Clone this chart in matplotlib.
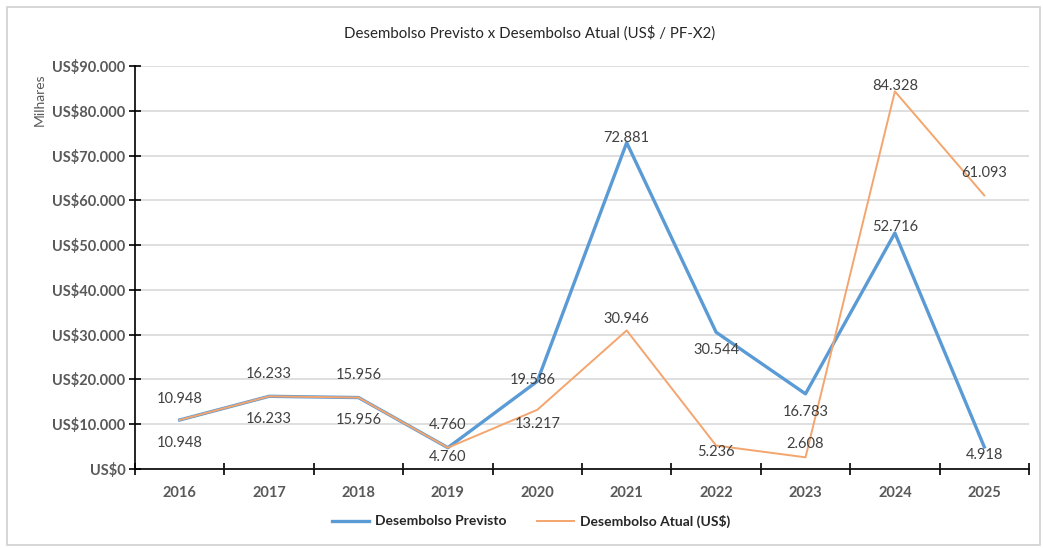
#!/usr/bin/env python3
"""Desembolso Previsto x Desembolso Atual (US$ / PF-X2) - line chart with data labels."""
import matplotlib.pyplot as plt
from matplotlib.patches import Rectangle
from matplotlib.ticker import FuncFormatter, FixedLocator

plt.rcParams["font.family"] = ["Lato", "DejaVu Sans"]

YEARS = ["2016", "2017", "2018", "2019", "2020", "2021", "2022", "2023", "2024", "2025"]
PREVISTO = [10948, 16233, 15956, 4760, 19586, 72881, 30544, 16783, 52716, 4918]
ATUAL = [10948, 16233, 15956, 4760, 13217, 30946, 5236, 2608, 84328, 61093]

BLUE = "#5B9BD5"
ORANGE = "#F4A56E"
TXT = "#404040"

# label offsets in points (dx, dy) per point
OFF_PREV = [(0, 15), (0, 16), (0, 16), (0, 16), (-3, 1), (0, 3), (0, -13), (0, -13), (0, 4.5), (0, -6)]
OFF_ATUAL = [(0, -16.5), (0, -16.5), (0, -16.5), (0, -6.5), (0, -10), (0, 8), (0, -4.7), (0, 9.5), (0, 4), (0, 16)]


def fmt_thousands(v):
    return f"{int(round(v)):,}".replace(",", ".")


def main():
    fig = plt.figure(figsize=(10.43, 5.48), dpi=100)
    fig.patches.append(Rectangle((7 / 1043, 3 / 548), 1033 / 1043, 538 / 548,
                                 transform=fig.transFigure, fill=False,
                                 edgecolor="#D0D0D0", lw=1.2))
    ax = fig.add_axes([135 / 1043, 1 - 469 / 548, 894 / 1043, 403 / 548])

    x = list(range(len(YEARS)))
    ax.plot(x, PREVISTO, color=BLUE, lw=2.4, label="Desembolso Previsto", zorder=3)
    ax.plot(x, ATUAL, color=ORANGE, lw=1.4, label="Desembolso Atual (US$)", zorder=4)

    for xi, v, (dx, dy) in zip(x, PREVISTO, OFF_PREV):
        ax.annotate(fmt_thousands(v), (xi, v), xytext=(dx, dy), textcoords="offset points",
                    ha="center", va="center", fontsize=10.5, color=TXT, zorder=5)
    for xi, v, (dx, dy) in zip(x, ATUAL, OFF_ATUAL):
        ax.annotate(fmt_thousands(v), (xi, v), xytext=(dx, dy), textcoords="offset points",
                    ha="center", va="center", fontsize=10.5, color=TXT, zorder=5)

    ax.set_xlim(-0.5, len(YEARS) - 0.5)
    ax.set_ylim(0, 90000)
    ax.set_yticks(range(0, 90001, 10000))
    ax.yaxis.set_major_formatter(FuncFormatter(lambda v, p: "US$" + fmt_thousands(v)))
    ax.xaxis.set_major_locator(FixedLocator([i - 0.5 for i in range(len(YEARS) + 1)]))
    ax.xaxis.set_major_formatter(FuncFormatter(lambda v, p: ""))
    ax.xaxis.set_minor_locator(FixedLocator(x))
    ax.set_xticklabels(YEARS, minor=True)
    ax.tick_params(axis="x", which="major", direction="inout", length=8, width=1.2)
    ax.tick_params(axis="x", which="minor", length=0, pad=12)
    ax.tick_params(axis="y", direction="inout", length=8, width=1.2, pad=3)
    for lab in ax.get_xticklabels(minor=True) + ax.get_yticklabels():
        lab.set_fontweight("bold")
        lab.set_color("#595959")
        lab.set_fontsize(10.5)

    ax.grid(axis="y", color="#D9D9D9", lw=1.2, zorder=0)
    ax.set_axisbelow(True)
    for s in ("top", "right"):
        ax.spines[s].set_visible(False)
    ax.spines["left"].set_linewidth(1.2)
    ax.spines["bottom"].set_linewidth(1.2)

    fig.text(530 / 1043, 1 - 33 / 548, "Desembolso Previsto x Desembolso Atual (US$ / PF-X2)",
             ha="center", va="center", fontsize=10.8, color="#262626")
    fig.text(40 / 1043, 1 - 100 / 548, "Milhares", rotation=90, ha="center", va="center",
             fontsize=10, color="#595959")

    leg = fig.legend(loc="center", bbox_to_anchor=(531 / 1043, 1 - 521 / 548), ncol=2,
                     frameon=False, handlelength=2.7, handletextpad=0.4, columnspacing=2.2,
                     prop={"weight": "bold", "size": 10})
    for t in leg.get_texts():
        t.set_color("#262626")

    fig.savefig("out.png", dpi=100)
    plt.close(fig)


if __name__ == "__main__":
    main()
